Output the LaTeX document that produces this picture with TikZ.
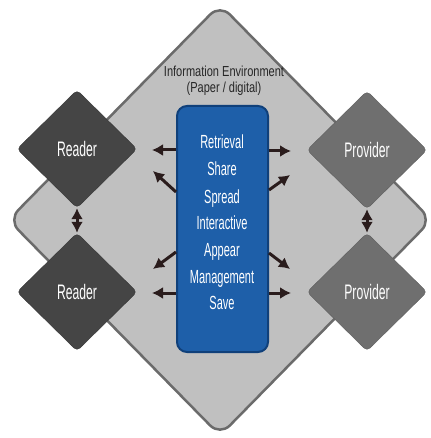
\documentclass[tikz,border=0pt]{standalone}
\usepackage{xcolor}
\usepackage{fontspec}
\setmainfont{Liberation Sans}[FakeStretch=0.58]
\newfontfamily\titlefont{Liberation Sans}[FakeStretch=0.76]
\usepackage{tikz}
\usetikzlibrary{shapes.geometric, arrows.meta, positioning}

\definecolor{envfill}{HTML}{C0C0C0}
\definecolor{envline}{HTML}{6B6B6B}
\definecolor{readfill}{HTML}{454545}
\definecolor{provfill}{HTML}{6F6F6F}
\definecolor{opsfill}{HTML}{1E5FA9}
\definecolor{opsline}{HTML}{10407A}
\definecolor{arrowc}{HTML}{2A1C1C}

\tikzset{
	role/.style = {diamond, minimum width=120pt, minimum height=118pt, inner sep=0pt,
		rounded corners=4pt, text=white, font=\fontsize{21}{24}\selectfont},
	reader/.style = {role, fill=readfill, draw=readfill!80!black},
	provider/.style = {role, fill=provfill, draw=provfill!85!black},
	flow/.style = {draw=arrowc, line width=3pt, -{Latex[length=11pt, width=12pt]}},
	link/.style = {flow, {Latex[length=11pt, width=12pt]}-{Latex[length=11pt, width=12pt]}},
	item/.style = {text=white, anchor=base, font=\fontsize{19}{22}\selectfont}
}

\begin{document}
\begin{tikzpicture}[x=1pt, y=-1pt]
			\useasboundingbox (0,0) rectangle (430,438);
			
			% the information environment
			\node [diamond, minimum width=424pt, minimum height=432pt, inner sep=0pt,
				fill=envfill, draw=envline, line width=2.5pt, rounded corners=14pt] (env) at (220,220) {};
			\node [align=center, text=black!85, font=\titlefont\fontsize{14.5}{16}\selectfont] (title) at (224,81)
				{Information Environment\\(Paper / digital)};
			
			% readers and providers
			\node [reader] (rd1) at (77,149) {Reader};
			\node [reader] (rd2) at (77,292) {Reader};
			\node [provider] (pv1) at (367,150) {Provider};
			\node [provider] (pv2) at (367,292) {Provider};
			
			\draw [link] (rd1.south) -- (rd2.north);
			\draw [link] (pv1.south) -- (pv2.north);
			
			% the operations
			\node [fill=opsfill, draw=opsline, line width=2pt, rounded corners=10pt,
				minimum width=91pt, minimum height=246pt] (ops) at (222.5,229) {};
			
			\node [item] (op1) at (222,149) {Retrieval};
			\node [item] (op2) at (222,176) {Share};
			\node [item] (op3) at (222,203) {Spread};
			\node [item] (op4) at (222,229) {Interactive};
			\node [item] (op5) at (222,256) {Appear};
			\node [item] (op6) at (222,283) {Management};
			\node [item] (op7) at (222,309) {Save};
			
			\coordinate (l1) at (152,150);
			\coordinate (l2) at (153,171);
			\coordinate (l3) at (153,269);
			\coordinate (l4) at (152,293);
			\coordinate (r1) at (291,151);
			\coordinate (r2) at (290,175);
			\coordinate (r3) at (290,269);
			\coordinate (r4) at (291,293);
			
			\draw [flow] ([yshift=79pt]ops.west) -- (l1);
			\draw [flow] ([yshift=37pt]ops.west) -- (l2);
			\draw [flow] ([yshift=-23pt]ops.west) -- (l3);
			\draw [flow] ([yshift=-64pt]ops.west) -- (l4);
			\draw [flow] ([yshift=78pt]ops.east) -- (r1);
			\draw [flow] ([yshift=39pt]ops.east) -- (r2);
			\draw [flow] ([yshift=-24pt]ops.east) -- (r3);
			\draw [flow] ([yshift=-64pt]ops.east) -- (r4);
		\end{tikzpicture}
\end{document}
